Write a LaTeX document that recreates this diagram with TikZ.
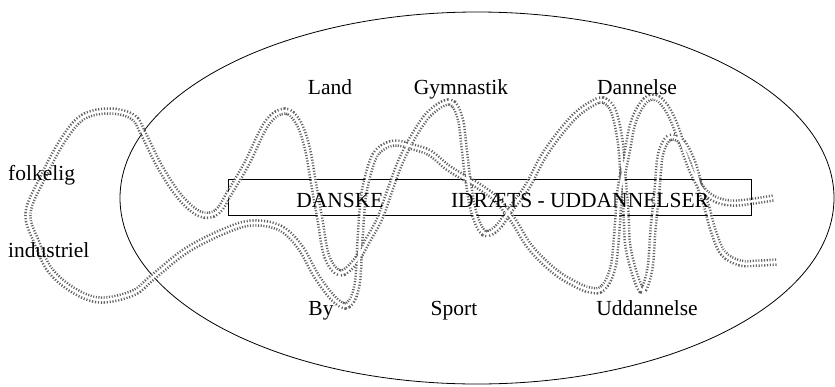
\documentclass[tikz,border=0pt]{standalone}
\usepackage{fontspec}
\setmainfont{Liberation Serif}
\usetikzlibrary{shapes.geometric}
\begin{document}
\begin{tikzpicture}[x=1pt,y=-1pt,
  lbl/.style={inner sep=0pt,anchor=base,font=\fontsize{21.5}{25}\selectfont},
  ropeout/.style={draw=black!62,line width=7.5pt,dash pattern=on 1.1pt off 1.7pt},
  ropein/.style={draw=white,line width=2.4pt}]
\useasboundingbox (0,0) rectangle (835,386);
\node[draw,ellipse,line width=0.8pt,minimum width=714pt,minimum height=372pt,inner sep=0pt] (ell) at (477,198) {};
\node[draw,line width=1pt,minimum width=523pt,minimum height=36pt,inner sep=0pt] (box) at (489.5,197) {};
\def\ropepts{(773,198) (737,203) (717,200) (703,190) (693,173) (683,147) (673,120) (663,103)
(653,97) (643,103) (633,123) (627,153) (620,190) (617,230) (613,267) (603,288)
(590,290) (573,283) (553,270) (530,247) (513,220) (497,200) (480,187) (463,177)
(447,167) (430,153) (413,147) (397,143) (385,146) (375,155) (368,175) (363,200)
(360,240) (357,285) (348,305) (335,300) (317,277) (300,247) (280,228) (253,223)
(227,230) (187,250) (153,277) (133,293) (100,300) (73,290) (50,270) (37,243)
(28,213) (43,177) (63,140) (83,117) (110,111) (133,117) (143,133) (160,167)
(180,197) (200,214) (217,212) (230,192) (247,163) (267,123) (285,111) (298,122)
(307,147) (313,180) (320,220) (327,257) (340,273) (355,262) (368,240) (380,218)
(390,190) (400,163) (413,137) (430,113) (450,102) (460,118) (464,147) (468,180)
(474,213) (484,233) (497,228) (510,210) (527,187) (543,157) (560,133) (577,114)
(593,103) (603,100) (613,110) (620,140) (623,175) (626,213) (628,247) (636,278)
(643,290) (650,268) (653,230) (657,190) (660,157) (666,141) (673,137) (683,143)
(693,163) (700,187) (707,208) (713,230) (723,253) (740,263) (760,263) (777,262)}
\draw[ropeout] plot[smooth,tension=0.6] coordinates {\ropepts};
\draw[ropein] plot[smooth,tension=0.6] coordinates {\ropepts};
\node[lbl] (danske) at (340,207) {DANSKE};
\node[lbl] (idraet) at (580,207) {IDRÆTS - UDDANNELSER};
\node[lbl] (land) at (330,94) {Land};
\node[lbl] (gym) at (461,94) {Gymnastik};
\node[lbl] (dan) at (637,94) {Dannelse};
\node[lbl] (by) at (321,315) {By};
\node[lbl] (sport) at (454,315) {Sport};
\node[lbl] (udd) at (647,315) {Uddannelse};
\node[lbl,anchor=base west] (folk) at (8,180) {folkelig};
\node[lbl,anchor=base west] (ind) at (8,257) {industriel};
\end{tikzpicture}
\end{document}
